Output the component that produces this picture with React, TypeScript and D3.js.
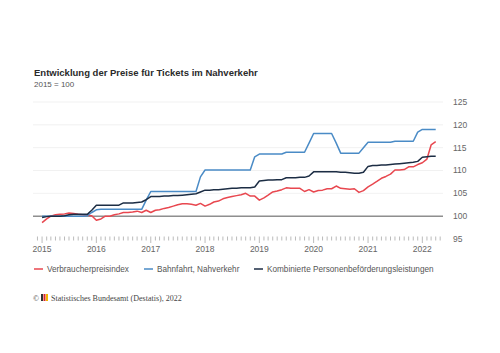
import * as d3 from "d3"

const yearLabels = ["2015", "2016", "2017", "2018", "2019", "2020", "2021", "2022"]
const yTicks = [95, 100, 105, 110, 115, 120, 125]
const seriesNames = ["Verbraucherpreisindex", "Bahnfahrt, Nahverkehr", "Kombinierte Personenbeförderungsleistungen"]

// monthly values, Jan 2015 .. Apr 2022
const vpi = [
    98.6, 99.4, 100.0, 100.3, 100.4, 100.5, 100.7, 100.6, 100.4, 100.3, 100.2, 100.1,
    99.1, 99.4, 100.0, 100.0, 100.3, 100.5, 100.8, 100.8, 100.9, 101.1, 100.8, 101.3,
    100.8, 101.3, 101.4, 101.7, 101.9, 102.2, 102.5, 102.7, 102.7, 102.6, 102.4, 102.8,
    102.2, 102.6, 103.1, 103.3, 103.8, 104.1, 104.3, 104.5, 104.7, 105.0, 104.4, 104.4,
    103.5, 104.0, 104.6, 105.3, 105.5, 105.8, 106.2, 106.1, 106.1, 106.1, 105.4, 105.8,
    105.3, 105.6, 105.7, 106.0, 106.0, 106.6, 106.1, 106.0, 105.9, 106.0, 105.2, 105.6,
    106.4, 107.0, 107.6, 108.3, 108.7, 109.2, 110.1, 110.1, 110.2, 110.8, 110.8, 111.3,
    111.7, 112.5, 115.6, 116.3,
]
const bahn = [
    100.0, 100.0, 100.0, 100.0, 100.0, 100.0, 100.0, 100.0, 100.0, 100.0, 100.1, 100.8,
    101.4, 101.5, 101.5, 101.5, 101.5, 101.5, 101.5, 101.5, 101.5, 101.5, 101.5, 103.5,
    105.4, 105.4, 105.4, 105.4, 105.4, 105.4, 105.4, 105.4, 105.4, 105.4, 105.4, 108.6,
    110.1, 110.1, 110.1, 110.1, 110.1, 110.1, 110.1, 110.1, 110.1, 110.1, 110.1, 113.0,
    113.6, 113.6, 113.6, 113.6, 113.6, 113.6, 114.0, 114.0, 114.0, 114.0, 114.0, 116.0,
    118.1, 118.1, 118.1, 118.1, 118.1, 116.0, 113.8, 113.8, 113.8, 113.8, 113.8, 115.0,
    116.2, 116.2, 116.2, 116.2, 116.2, 116.2, 116.4, 116.4, 116.4, 116.4, 116.4, 118.4,
    119.0, 119.0, 119.0, 119.0,
]
const kombi = [
    99.7, 99.9, 100.0, 100.0, 100.0, 100.1, 100.3, 100.4, 100.4, 100.4, 100.4, 101.3,
    102.4, 102.4, 102.4, 102.4, 102.4, 102.4, 102.9, 102.9, 102.9, 103.0, 103.1, 103.6,
    104.3, 104.3, 104.3, 104.4, 104.4, 104.5, 104.5, 104.6, 104.7, 104.8, 104.9, 105.3,
    105.7, 105.7, 105.8, 105.8, 105.9, 106.0, 106.1, 106.1, 106.2, 106.2, 106.2, 106.4,
    107.7, 107.8, 107.9, 107.9, 108.0, 108.0, 108.4, 108.4, 108.4, 108.5, 108.5, 108.8,
    109.7, 109.7, 109.7, 109.7, 109.7, 109.7, 109.6, 109.6, 109.5, 109.4, 109.4, 109.6,
    110.9, 111.1, 111.1, 111.2, 111.2, 111.3, 111.4, 111.5, 111.6, 111.7, 111.8, 112.0,
    112.9, 113.0, 113.1, 113.1,
]

const colors = ["#e8474f", "#4a8bc6", "#1c2d44"]
const font = "'Liberation Sans', Arial, sans-serif"

export default function App() {
    const width = 500
    const height = 353

    const months = d3.timeMonth.range(new Date(2015, 0, 1), new Date(2022, 4, 1))
    const x = d3.scaleTime([new Date(2014, 10, 1), new Date(2022, 4, 20)], [33, 443])
    const y = d3.scaleLinear([95, 125], [239, 102])

    const line = d3.line<number>()
        .x((_, i) => x(months[i]))
        .y(v => y(v))

    const series = [vpi, bahn, kombi]
    const tickMonths = d3.timeMonth.range(new Date(2014, 11, 1), new Date(2022, 5, 1))
    const legendX = [34, 144, 254]

    return (
        <svg width={width} height={height} style={{ position: "absolute", left: 0, top: 0, background: "#fff" }} fontFamily={font}>
            <text x={34} y={76} fontSize={9.5} fontWeight="bold" fill="#2a2a2a">Entwicklung der Preise für Tickets im Nahverkehr</text>
            <text x={34} y={87} fontSize={8} fill="#555">2015 = 100</text>

            <g>
                {yTicks.map(t => (
                    <g key={t}>
                        {t !== 95 && (
                            <line x1={33} x2={443} y1={y(t)} y2={y(t)}
                                stroke={t === 100 ? "#555" : "#eeeeee"} strokeWidth={t === 100 ? 1 : 0.8} />
                        )}
                        <text x={453} y={y(t)} dy="0.35em" fontSize={8.5} fill="#666">{t}</text>
                    </g>
                ))}
            </g>

            <g stroke="#aaa" strokeWidth={0.8}>
                {tickMonths.map((d, i) => (
                    <line key={i} x1={x(d)} x2={x(d)} y1={236.5} y2={d.getMonth() === 0 ? 243 : 240.5} />
                ))}
            </g>
            {yearLabels.map(l => (
                <text key={l} x={x(new Date(+l, 0, 1))} y={252} textAnchor="middle" fontSize={8.5} fill="#666">{l}</text>
            ))}

            <g fill="none" strokeWidth={1.5} strokeLinejoin="round">
                {series.map((s, i) => (
                    <path key={i} d={line(s) ?? ""} stroke={colors[i]} />
                ))}
            </g>

            <g fontSize={8.2} fill="#555">
                {seriesNames.map((n, i) => (
                    <g key={n}>
                        <line x1={legendX[i]} x2={legendX[i] + 9} y1={269} y2={269} stroke={colors[i]} strokeWidth={1.5} />
                        <text x={legendX[i] + 13} y={269} dy="0.35em">{n}</text>
                    </g>
                ))}
            </g>

            <g fontFamily="'Liberation Serif', 'Times New Roman', serif" fontSize={8} fill="#444">
                <text x={33} y={301}>©</text>
                <rect x={41} y={294} width={2} height={7} fill="#333" />
                <rect x={43.5} y={294} width={2} height={7} fill="#d9262b" />
                <rect x={46} y={294} width={2} height={7} fill="#f2b600" />
                <text x={51} y={301}>Statistisches Bundesamt (Destatis), 2022</text>
            </g>
        </svg>
    )
}
